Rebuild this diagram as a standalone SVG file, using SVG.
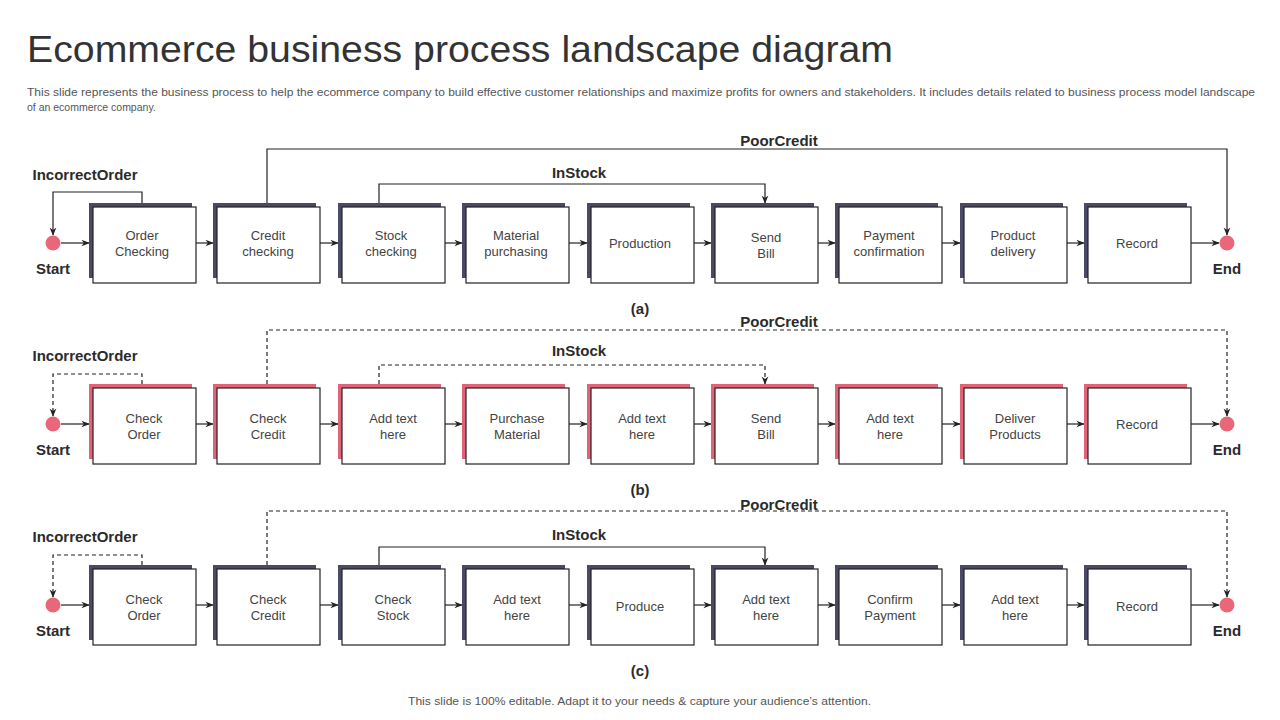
<svg xmlns="http://www.w3.org/2000/svg" width="1280" height="720" viewBox="0 0 1280 720">
<style>
.t{font-family:"Liberation Sans",Arial,sans-serif}
.title{font-size:36px;fill:#333}
.sub{font-size:10.5px;fill:#555}
.lb{font-size:15px;font-weight:bold;fill:#2b2b2b;text-anchor:middle}
.bx{font-size:13px;fill:#444;text-anchor:middle}
.f{fill:#fff;stroke:#222;stroke-width:1.2}
.sd{fill:#4a4a66}
.sp{fill:#e06377}
.c{fill:#e8687a}
.ln{fill:none;stroke:#222;stroke-width:1.2}
.ds{stroke-dasharray:4 3}
</style>
<defs>
<marker id="ah" viewBox="0 0 10 10" refX="9" refY="5" markerWidth="7" markerHeight="7" orient="auto"><path d="M0,1 L10,5 L0,9 L3,5 Z" fill="#222"/></marker>
</defs>
<text class="t title" x="27" y="62" textLength="866" lengthAdjust="spacingAndGlyphs">Ecommerce business process landscape diagram</text>
<text class="t sub" x="27" y="96" textLength="1228" lengthAdjust="spacingAndGlyphs">This slide represents the business process to help the ecommerce company to build effective customer relationships and maximize profits for owners and stakeholders. It includes details related to business process model landscape</text>
<text class="t sub" x="27" y="111">of an ecommerce company.</text>

<g id="connectors">
<path class="ln" marker-end="url(#ah)" d="M61,243 H89"/>
<path class="ln" marker-end="url(#ah)" d="M196,243 H213"/>
<path class="ln" marker-end="url(#ah)" d="M320,243 H338"/>
<path class="ln" marker-end="url(#ah)" d="M445,243 H462"/>
<path class="ln" marker-end="url(#ah)" d="M569,243 H587"/>
<path class="ln" marker-end="url(#ah)" d="M694,243 H711"/>
<path class="ln" marker-end="url(#ah)" d="M818,243 H835"/>
<path class="ln" marker-end="url(#ah)" d="M942,243 H960"/>
<path class="ln" marker-end="url(#ah)" d="M1067,243 H1084"/>
<path class="ln" marker-end="url(#ah)" d="M1191,243 H1219"/>
<path class="ln" marker-end="url(#ah)" d="M142,203 V192 H53 V235"/>
<path class="ln" marker-end="url(#ah)" d="M267,203 V149 H1227 V235"/>
<path class="ln" marker-end="url(#ah)" d="M379,203 V184 H765 V203"/>
<path class="ln" marker-end="url(#ah)" d="M61,424 H89"/>
<path class="ln" marker-end="url(#ah)" d="M196,424 H213"/>
<path class="ln" marker-end="url(#ah)" d="M320,424 H338"/>
<path class="ln" marker-end="url(#ah)" d="M445,424 H462"/>
<path class="ln" marker-end="url(#ah)" d="M569,424 H587"/>
<path class="ln" marker-end="url(#ah)" d="M694,424 H711"/>
<path class="ln" marker-end="url(#ah)" d="M818,424 H835"/>
<path class="ln" marker-end="url(#ah)" d="M942,424 H960"/>
<path class="ln" marker-end="url(#ah)" d="M1067,424 H1084"/>
<path class="ln" marker-end="url(#ah)" d="M1191,424 H1219"/>
<path class="ln ds" marker-end="url(#ah)" d="M142,384 V374 H53 V416"/>
<path class="ln ds" marker-end="url(#ah)" d="M267,384 V330 H1227 V416"/>
<path class="ln ds" marker-end="url(#ah)" d="M379,384 V365 H765 V384"/>
<path class="ln" marker-end="url(#ah)" d="M61,605 H89"/>
<path class="ln" marker-end="url(#ah)" d="M196,605 H213"/>
<path class="ln" marker-end="url(#ah)" d="M320,605 H338"/>
<path class="ln" marker-end="url(#ah)" d="M445,605 H462"/>
<path class="ln" marker-end="url(#ah)" d="M569,605 H587"/>
<path class="ln" marker-end="url(#ah)" d="M694,605 H711"/>
<path class="ln" marker-end="url(#ah)" d="M818,605 H835"/>
<path class="ln" marker-end="url(#ah)" d="M942,605 H960"/>
<path class="ln" marker-end="url(#ah)" d="M1067,605 H1084"/>
<path class="ln" marker-end="url(#ah)" d="M1191,605 H1219"/>
<path class="ln ds" marker-end="url(#ah)" d="M142,565 V555 H53 V597"/>
<path class="ln ds" marker-end="url(#ah)" d="M267,565 V511 H1227 V597"/>
<path class="ln" marker-end="url(#ah)" d="M379,565 V547 H765 V565"/>
</g>

<g class="t lb">
<text x="85" y="180">IncorrectOrder</text><text x="53" y="274">Start</text><text x="1227" y="274">End</text>
<text x="779" y="146">PoorCredit</text><text x="579" y="178">InStock</text><text x="640" y="314">(a)</text>
<text x="85" y="361">IncorrectOrder</text><text x="53" y="455">Start</text><text x="1227" y="455">End</text>
<text x="779" y="327">PoorCredit</text><text x="579" y="356">InStock</text><text x="640" y="495">(b)</text>
<text x="85" y="542">IncorrectOrder</text><text x="53" y="636">Start</text><text x="1227" y="636">End</text>
<text x="779" y="510">PoorCredit</text><text x="579" y="540">InStock</text><text x="640" y="676">(c)</text>
</g>

<g id="a-start"><circle class="c" cx="53" cy="243" r="7.5"/></g>
<g id="a-end"><circle class="c" cx="1227" cy="243" r="7.5"/></g>
<g id="a1"><rect class="sd" x="89" y="203" width="103" height="75"/><rect class="f" x="93" y="207" width="103" height="76"/><text class="t bx" x="142" y="240">Order</text><text class="t bx" x="142" y="256">Checking</text></g>
<g id="a2"><rect class="sd" x="213" y="203" width="103" height="75"/><rect class="f" x="217" y="207" width="103" height="76"/><text class="t bx" x="268" y="240">Credit</text><text class="t bx" x="268" y="256">checking</text></g>
<g id="a3"><rect class="sd" x="338" y="203" width="103" height="75"/><rect class="f" x="342" y="207" width="103" height="76"/><text class="t bx" x="391" y="240">Stock</text><text class="t bx" x="391" y="256">checking</text></g>
<g id="a4"><rect class="sd" x="462" y="203" width="103" height="75"/><rect class="f" x="466" y="207" width="103" height="76"/><text class="t bx" x="516" y="240">Material</text><text class="t bx" x="516" y="256">purchasing</text></g>
<g id="a5"><rect class="sd" x="587" y="203" width="103" height="75"/><rect class="f" x="591" y="207" width="103" height="76"/><text class="t bx" x="640" y="248">Production</text></g>
<g id="a6"><rect class="sd" x="711" y="203" width="103" height="75"/><rect class="f" x="715" y="207" width="103" height="76"/><text class="t bx" x="766" y="242">Send</text><text class="t bx" x="766" y="258">Bill</text></g>
<g id="a7"><rect class="sd" x="835" y="203" width="103" height="75"/><rect class="f" x="839" y="207" width="103" height="76"/><text class="t bx" x="889" y="240">Payment</text><text class="t bx" x="889" y="256">confirmation</text></g>
<g id="a8"><rect class="sd" x="960" y="203" width="103" height="75"/><rect class="f" x="964" y="207" width="103" height="76"/><text class="t bx" x="1013" y="240">Product</text><text class="t bx" x="1013" y="256">delivery</text></g>
<g id="a9"><rect class="sd" x="1084" y="203" width="103" height="75"/><rect class="f" x="1088" y="207" width="103" height="76"/><text class="t bx" x="1137" y="248">Record</text></g>

<g id="b-start"><circle class="c" cx="53" cy="424" r="7.5"/></g>
<g id="b-end"><circle class="c" cx="1227" cy="424" r="7.5"/></g>
<g id="b1"><rect class="sp" x="89" y="384" width="103" height="75"/><rect class="f" x="93" y="388" width="103" height="76"/><text class="t bx" x="144" y="423">Check</text><text class="t bx" x="144" y="439">Order</text></g>
<g id="b2"><rect class="sp" x="213" y="384" width="103" height="75"/><rect class="f" x="217" y="388" width="103" height="76"/><text class="t bx" x="268" y="423">Check</text><text class="t bx" x="268" y="439">Credit</text></g>
<g id="b3"><rect class="sp" x="338" y="384" width="103" height="75"/><rect class="f" x="342" y="388" width="103" height="76"/><text class="t bx" x="393" y="423">Add text</text><text class="t bx" x="393" y="439">here</text></g>
<g id="b4"><rect class="sp" x="462" y="384" width="103" height="75"/><rect class="f" x="466" y="388" width="103" height="76"/><text class="t bx" x="517" y="423">Purchase</text><text class="t bx" x="517" y="439">Material</text></g>
<g id="b5"><rect class="sp" x="587" y="384" width="103" height="75"/><rect class="f" x="591" y="388" width="103" height="76"/><text class="t bx" x="642" y="423">Add text</text><text class="t bx" x="642" y="439">here</text></g>
<g id="b6"><rect class="sp" x="711" y="384" width="103" height="75"/><rect class="f" x="715" y="388" width="103" height="76"/><text class="t bx" x="766" y="423">Send</text><text class="t bx" x="766" y="439">Bill</text></g>
<g id="b7"><rect class="sp" x="835" y="384" width="103" height="75"/><rect class="f" x="839" y="388" width="103" height="76"/><text class="t bx" x="890" y="423">Add text</text><text class="t bx" x="890" y="439">here</text></g>
<g id="b8"><rect class="sp" x="960" y="384" width="103" height="75"/><rect class="f" x="964" y="388" width="103" height="76"/><text class="t bx" x="1015" y="423">Deliver</text><text class="t bx" x="1015" y="439">Products</text></g>
<g id="b9"><rect class="sp" x="1084" y="384" width="103" height="75"/><rect class="f" x="1088" y="388" width="103" height="76"/><text class="t bx" x="1137" y="429">Record</text></g>

<g id="c-start"><circle class="c" cx="53" cy="605" r="7.5"/></g>
<g id="c-end"><circle class="c" cx="1227" cy="605" r="7.5"/></g>
<g id="c1"><rect class="sd" x="89" y="565" width="103" height="75"/><rect class="f" x="93" y="569" width="103" height="76"/><text class="t bx" x="144" y="604">Check</text><text class="t bx" x="144" y="620">Order</text></g>
<g id="c2"><rect class="sd" x="213" y="565" width="103" height="75"/><rect class="f" x="217" y="569" width="103" height="76"/><text class="t bx" x="268" y="604">Check</text><text class="t bx" x="268" y="620">Credit</text></g>
<g id="c3"><rect class="sd" x="338" y="565" width="103" height="75"/><rect class="f" x="342" y="569" width="103" height="76"/><text class="t bx" x="393" y="604">Check</text><text class="t bx" x="393" y="620">Stock</text></g>
<g id="c4"><rect class="sd" x="462" y="565" width="103" height="75"/><rect class="f" x="466" y="569" width="103" height="76"/><text class="t bx" x="517" y="604">Add text</text><text class="t bx" x="517" y="620">here</text></g>
<g id="c5"><rect class="sd" x="587" y="565" width="103" height="75"/><rect class="f" x="591" y="569" width="103" height="76"/><text class="t bx" x="640" y="611">Produce</text></g>
<g id="c6"><rect class="sd" x="711" y="565" width="103" height="75"/><rect class="f" x="715" y="569" width="103" height="76"/><text class="t bx" x="766" y="604">Add text</text><text class="t bx" x="766" y="620">here</text></g>
<g id="c7"><rect class="sd" x="835" y="565" width="103" height="75"/><rect class="f" x="839" y="569" width="103" height="76"/><text class="t bx" x="890" y="604">Confirm</text><text class="t bx" x="890" y="620">Payment</text></g>
<g id="c8"><rect class="sd" x="960" y="565" width="103" height="75"/><rect class="f" x="964" y="569" width="103" height="76"/><text class="t bx" x="1015" y="604">Add text</text><text class="t bx" x="1015" y="620">here</text></g>
<g id="c9"><rect class="sd" x="1084" y="565" width="103" height="75"/><rect class="f" x="1088" y="569" width="103" height="76"/><text class="t bx" x="1137" y="611">Record</text></g>

<text class="t" x="408" y="705" font-size="11.5" fill="#555" textLength="463" lengthAdjust="spacingAndGlyphs">This slide is 100% editable. Adapt it to your needs &amp; capture your audience’s attention.</text>
</svg>
